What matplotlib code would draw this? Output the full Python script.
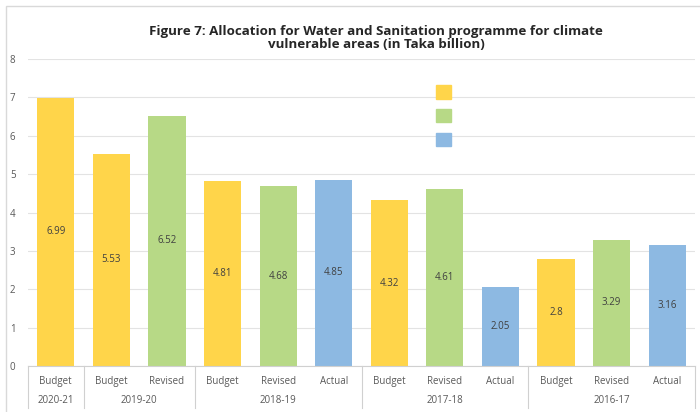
import matplotlib
matplotlib.use('Agg')
import matplotlib.pyplot as plt
from matplotlib.patches import Patch, Rectangle
import numpy as np

plt.rcParams['font.family'] = ['Open Sans', 'DejaVu Sans']

# Data
years = ['2020-21', '2019-20', '2018-19', '2017-18', '2016-17']
kinds = ['Budget', 'Budget', 'Revised', 'Budget', 'Revised', 'Actual',
         'Budget', 'Revised', 'Actual', 'Budget', 'Revised', 'Actual']
group_sizes = [1, 2, 3, 3, 3]
values = [6.99, 5.53, 6.52, 4.81, 4.68, 4.85, 4.32, 4.61, 2.05, 2.8, 3.29, 3.16]
labels = ['6.99', '5.53', '6.52', '4.81', '4.68', '4.85', '4.32', '4.61', '2.05', '2.8', '3.29', '3.16']

colors = {'Budget': '#FFD54A', 'Revised': '#B7D986', 'Actual': '#8DB9E2'}
grid_c = '#E3E3E3'
txt_c = '#595959'

fig = plt.figure(figsize=(7.0, 4.12), dpi=100)
ax = fig.add_axes([28/700, 1-366/412, 667/700, 307/412])

x = np.arange(len(values))
ax.bar(x, values, width=0.67, color=[colors[k] for k in kinds], zorder=2)
for xi, v, lab in zip(x, values, labels):
    ax.text(xi, v/2, lab, ha='center', va='center', fontsize=7, color='#404040', zorder=3)

ax.set_xlim(-0.5, len(values)-0.5)
ax.set_ylim(0, 8)
ax.set_yticks(range(0, 9))
ax.yaxis.grid(True, color=grid_c, lw=0.8, zorder=0)
ax.tick_params(axis='y', length=0, pad=9, labelsize=7, labelcolor=txt_c)
ax.set_xticks([])
for s in ['left', 'right', 'top']:
    ax.spines[s].set_visible(False)
ax.spines['bottom'].set_color('#D0D0D0')
ax.spines['bottom'].set_linewidth(0.8)

# two-level category axis
trans = ax.get_xaxis_transform()
for xi, k in zip(x, kinds):
    ax.text(xi, -0.049, k, transform=trans, ha='center', va='center', fontsize=7, color=txt_c)
edges = np.concatenate([[0], np.cumsum(group_sizes)]) - 0.5
for i, yr in enumerate(years):
    mid = (edges[i] + edges[i+1]) / 2
    ax.text(mid, -0.114, yr, transform=trans, ha='center', va='center', fontsize=7, color=txt_c)
for e in edges:
    ax.plot([e, e], [0, -0.137], transform=trans, color='#D0D0D0', lw=0.8, clip_on=False)

# legend squares (no text)
handles = [Patch(color=colors[k]) for k in ['Budget', 'Revised', 'Actual']]
ax.legend(handles, [' ', ' ', ' '], loc='upper left', bbox_to_anchor=(0.612, 0.915),
          frameon=False, fontsize=11, handlelength=1.0, handleheight=1.0,
          labelspacing=0.5, handletextpad=0.2, borderpad=0, borderaxespad=0)

fig.text(376/700, 1-38/412,
         'Figure 7: Allocation for Water and Sanitation programme for climate\nvulnerable areas (in Taka billion)',
         ha='center', va='center', fontsize=9.6, fontweight='bold', color='#262626', linespacing=1.1)

fig.patches.append(Rectangle((6/700, -0.1), 1.0, 1.1 - 6/412, transform=fig.transFigure,
                             fill=False, edgecolor='#D9D9D9', lw=1))

fig.savefig('out.png', dpi=100)
